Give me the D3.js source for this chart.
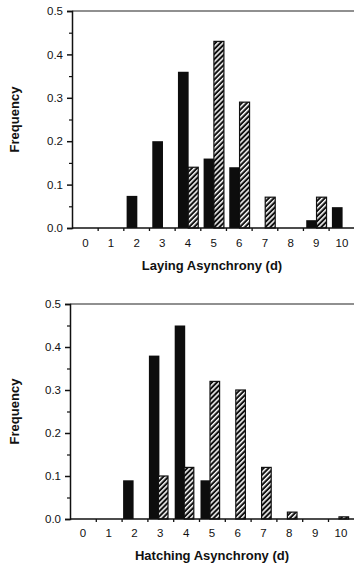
<!DOCTYPE html>
<html lang="en">
<head>
    <meta charset="UTF-8">
    <title>Asynchrony</title>
    <script src="https://cdn.jsdelivr.net/npm/d3@7/dist/d3.min.js"></script>
    <style>
        body { margin: 0; background: #fff; }
        svg { display: block; font-family: "Liberation Sans", Arial, sans-serif; }
        .tick text { font-size: 11.5px; fill: #111; }
        .ttl { font-size: 13px; font-weight: bold; fill: #111; }
    </style>
</head>
<body>
<div id="chart"></div>
<script>
    // days 0..10
    var days = [0, 1, 2, 3, 4, 5, 6, 7, 8, 9, 10];
    var yTicks = [0, 0.1, 0.2, 0.3, 0.4, 0.5];
    var yMinor = [0.05, 0.15, 0.25, 0.35, 0.45];

    // laying asynchrony (black = solid, hatched = striped bars)
    var layingSolid = [0, 0, 0.074, 0.20, 0.36, 0.16, 0.14, 0, 0, 0.018, 0.048];
    var layingHatch = [0, 0, 0, 0, 0.14, 0.43, 0.29, 0.071, 0, 0.071, 0];

    // hatching asynchrony
    var hatchingSolid = [0, 0, 0.09, 0.38, 0.45, 0.09, 0, 0, 0, 0, 0];
    var hatchingHatch = [0, 0, 0, 0.10, 0.12, 0.32, 0.30, 0.12, 0.016, 0, 0.005];

    var W = 354, H = 567;
    var svg = d3.select('#chart').append('svg').attr('width', W).attr('height', H);

    // hatch pattern: black with thin white diagonals
    var pat = svg.append('defs').append('pattern')
        .attr('id', 'hatch').attr('patternUnits', 'userSpaceOnUse')
        .attr('width', 3.6).attr('height', 3.6)
        .attr('patternTransform', 'rotate(45)');
    pat.append('rect').attr('width', 3.6).attr('height', 3.6).attr('fill', '#111');
    pat.append('rect').attr('x', 0).attr('y', 0).attr('width', 1.5).attr('height', 3.6).attr('fill', '#fff');

    function panel(cfg) {
        var g = svg.append('g');
        var x = d3.scaleBand().domain(days).range([cfg.left, cfg.left + cfg.bw * 11]).padding(0);
        var xb = d3.scaleLinear().domain([0, 11]).range([cfg.left, cfg.left + cfg.bw * 11]);
        var y = d3.scaleLinear().domain([0, 0.5]).range([cfg.bottom, cfg.top]);

        // top frame line
        g.append('line').attr('x1', cfg.left).attr('x2', W + 2)
            .attr('y1', y(0.5)).attr('y2', y(0.5))
            .attr('stroke', '#222').attr('stroke-width', 1.2);

        // bars
        g.selectAll('.solid').data(days.filter(function(d){ return cfg.solid[d] > 0; }))
            .enter().append('rect').attr('class', 'solid')
            .attr('x', function(d){ return x(d) + cfg.offA; })
            .attr('width', cfg.wA)
            .attr('y', function(d){ return y(cfg.solid[d]); })
            .attr('height', function(d){ return y(0) - y(cfg.solid[d]); })
            .attr('fill', '#0d0d0d');

        g.selectAll('.hatch').data(days.filter(function(d){ return cfg.hatch[d] > 0; }))
            .enter().append('rect').attr('class', 'hatch')
            .attr('x', function(d){ return x(d) + cfg.offB; })
            .attr('width', cfg.wB)
            .attr('y', function(d){ return y(cfg.hatch[d]); })
            .attr('height', function(d){ return y(0) - y(cfg.hatch[d]); })
            .attr('fill', 'url(#hatch)')
            .attr('stroke', '#111').attr('stroke-width', 1.2);

        // y axis
        var ya = g.append('g').attr('transform', 'translate(' + cfg.left + ',0)')
            .call(d3.axisLeft(y).tickValues(yTicks).tickFormat(d3.format('.1f')).tickSize(5).tickPadding(4));
        ya.selectAll('path,line').attr('stroke', '#111').attr('stroke-width', 1.5);
        var ym = g.append('g').attr('transform', 'translate(' + cfg.left + ',0)')
            .call(d3.axisLeft(y).tickValues(yMinor).tickFormat('').tickSize(3));
        ym.select('.domain').remove();
        ym.selectAll('line').attr('stroke', '#111').attr('stroke-width', 1.2);

        // x axis: boundary ticks + centred labels
        var xa = g.append('g').attr('transform', 'translate(0,' + cfg.bottom + ')')
            .call(d3.axisBottom(xb).tickValues(d3.range(1, 11)).tickFormat('').tickSize(3).tickSizeOuter(0));
        xa.selectAll('path,line').attr('stroke', '#111').attr('stroke-width', 1.3);
        xa.select('.domain').attr('d', 'M' + cfg.left + ',0H' + (W + 2));
        var xl = g.append('g').attr('transform', 'translate(' + cfg.labDx + ',' + cfg.bottom + ')')
            .call(d3.axisBottom(x).tickSize(0).tickPadding(cfg.labPad));
        xl.select('.domain').remove();

        // titles
        g.append('text').attr('class', 'ttl').attr('text-anchor', 'middle')
            .attr('x', 212).attr('y', cfg.titleY).text(cfg.title);
        g.append('text').attr('class', 'ttl').attr('text-anchor', 'middle')
            .attr('transform', 'translate(19,' + ((cfg.top + cfg.bottom) / 2) + ') rotate(-90)')
            .text('Frequency');
    }

    panel({ left: 72, bw: 25.66, top: 11, bottom: 228, offA: 3.3, wA: 10.7, offB: 13.6, wB: 10,
            solid: layingSolid, hatch: layingHatch, labDx: 0.5, labPad: 11, titleY: 270,
            title: 'Laying Asynchrony (d)' });
    panel({ left: 70, bw: 25.8, top: 304, bottom: 519, offA: 1.5, wA: 10.5, offB: 11, wB: 9.6,
            solid: hatchingSolid, hatch: hatchingHatch, labDx: 0, labPad: 10, titleY: 560,
            title: 'Hatching Asynchrony (d)' });
</script>
</body>
</html>
